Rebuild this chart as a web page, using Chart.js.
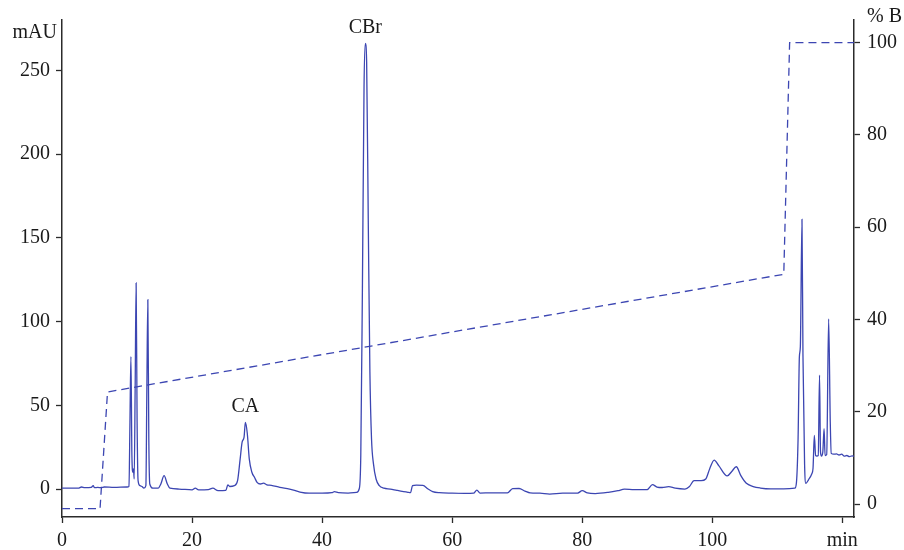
<!DOCTYPE html>
<html>
<head>
<meta charset="utf-8">
<script src="https://cdn.jsdelivr.net/npm/chart.js@4.4.1/dist/chart.umd.min.js"></script>
<style>
  html, body { margin: 0; padding: 0; background: #fff; }
  #wrap { width: 904px; height: 550px; }
</style>
</head>
<body>
<div id="wrap"><canvas id="chrom"></canvas></div>
<script>
// chromatogram trace (time in min, absorbance in mAU)
var times = [0, 2.5, 3.0, 3.5, 4.5, 4.8, 5.0, 5.5, 6.0, 6.5, 8, 10, 10.3, 10.45, 10.6, 10.75, 10.9, 11.0, 11.1, 11.25,
  11.4, 11.55, 11.7, 12.0, 12.3, 12.6, 12.9, 13.05, 13.2, 13.35, 13.5, 14.0, 14.8, 15.2, 15.7, 16.2, 16.6, 18, 20, 20.5,
  21, 22.5, 23.2, 24, 25.2, 25.5, 25.8, 26.5, 27.0, 27.4, 27.7, 28.0, 28.2, 28.5, 28.8, 29.2, 29.6, 30.0, 30.5, 31.0,
  31.5, 32.2, 33.5, 35, 36.6, 38, 40, 41.5, 41.9, 42.5, 44, 45.3, 45.7, 45.95, 46.2, 46.45, 46.65, 46.85, 47.1, 47.35,
  47.6, 47.9, 48.3, 48.8, 49.5, 50.5, 51.5, 53.2, 53.6, 53.9, 54.5, 55.5, 56.3, 57, 58, 60, 62, 63.3, 63.8, 64.3,
  66, 68.5, 69.3, 70.3, 71.2, 72, 73.5, 75, 77, 79.3, 80.0, 80.8, 82, 84, 85.5, 86.5, 88, 90, 90.8, 91.5,
  92.3, 93.3, 94.3, 95.8, 96.5, 97.2, 98.3, 99.0, 99.6, 100.3, 101.0, 102.3, 103.0, 103.7, 104.4, 105.2, 106.3, 107.4, 109, 111,
  112.7, 112.95, 113.2, 113.4, 113.55, 113.8, 113.95, 114.2, 114.4, 114.8, 115.3, 115.5, 115.7, 115.9, 116.1, 116.3, 116.5, 116.65, 116.8, 117.0,
  117.2, 117.35, 117.6, 117.9, 118.15, 118.3, 118.7, 119.1, 119.5, 119.9, 120.3, 120.7, 121.1, 121.5, 121.8];
var mau = [0.5, 0.5, 1.2, 0.8, 1.0, 2.0, 0.8, 1.0, 0.8, 1.2, 1.0, 1.2, 1.5, 40, 79, 20, 10, 12, 6, 60,
  123, 40, 5, 2, 1.5, 0.5, 2, 60, 113, 30, 3, 0.5, 0.5, 3, 8, 3, 0.5, 0, -0.5, 0.5,
  -0.5, -0.3, 0.5, -1, -0.8, 2.5, 1.5, 2, 5, 18, 28, 31, 39.7, 33, 18, 10, 7, 4, 3, 3.5,
  2.5, 2.2, 1, 0, -1.8, -2.5, -2.5, -2.2, -1.6, -2.2, -2.4, -2.0, 0, 20, 120, 240, 266, 255, 160, 70,
  30, 15, 6, 2, 0.5, 0, -0.8, -2.0, -2.2, 2, 2.3, 2.2, 0, -1.5, -2.2, -2.5, -2.6, -2.5, -0.6, -2.4,
  -2.3, -2.3, 0.2, 0.3, -1.2, -2.3, -2.5, -3.0, -2.5, -2.4, -1.0, -2.3, -2.7, -2, -1.0, -0.1, -0.4, -0.3, 2.6, 1.2,
  0.9, 1.4, 0.5, 0, 1.5, 5, 5, 6, 12, 17.3, 14, 7.8, 10.5, 13.3, 8, 3.6, 1.5, 0.6, 0.1, 0.1,
  0.5, 4, 30, 79, 85, 161, 80, 15, 3.4, 5.5, 9, 12.4, 32, 20, 19.7, 20, 68, 22, 19.7, 22,
  36, 20, 20.5, 101.5, 40, 21.3, 20.8, 21, 20.3, 20.8, 19.6, 20, 19.3, 19.8, 19.6];

// solvent gradient (% B)
var gradTimes = [0, 5.85, 7.0, 111.0, 111.9, 121.8];
var gradB = [-1, -1, 24.3, 49.8, 100, 100];

var xTicks = [0, 20, 40, 60, 80, 100, 120];
var leftTicks = [0, 50, 100, 150, 200, 250];
var rightTicks = [0, 20, 40, 60, 80, 100];

var peakNames = ["CA", "CBr"];
var peakTimes = [28.2, 46.65];
var peakHeights = [39.7, 266];

var blue = "#3c46b2";
var axisColor = "#2b2b2b";
var serif = "'Liberation Serif', 'DejaVu Serif', serif";

function pts(xs, ys) {
  return xs.map(function (x, i) { return { x: x, y: ys[i] }; });
}

var labelsPlugin = {
  id: "extraText",
  afterDraw: function (chart) {
    var ctx = chart.ctx;
    var xs = chart.scales.x, ys = chart.scales.y;
    ctx.save();
    ctx.fillStyle = "#1a1a1a";
    ctx.font = "20px " + serif;
    ctx.textBaseline = "middle";
    ctx.textAlign = "right";
    ctx.fillText("mAU", 57, 33);
    ctx.textAlign = "left";
    ctx.fillText("% B", 867, 17);
    ctx.textAlign = "center";
    ctx.textBaseline = "bottom";
    for (var i = 0; i < peakNames.length; i++) {
      ctx.fillText(peakNames[i], xs.getPixelForValue(peakTimes[i]), ys.getPixelForValue(peakHeights[i]) - 6);
    }
    ctx.restore();
  }
};

new Chart("chrom", {
  type: "line",
  data: {
    datasets: [{
      data: pts(times, mau),
      yAxisID: "y",
      borderColor: blue,
      borderWidth: 1.3,
      pointRadius: 0,
      cubicInterpolationMode: "monotone"
    }, {
      data: pts(gradTimes, gradB),
      yAxisID: "y1",
      borderColor: blue,
      borderWidth: 1.3,
      borderDash: [8, 5],
      pointRadius: 0,
      tension: 0
    }]
  },
  options: {
    responsive: true,
    maintainAspectRatio: false,
    animation: false,
    layout: { padding: { top: 20, left: 0, right: 0, bottom: 0 } },
    plugins: { legend: { display: false }, tooltip: { enabled: false } },
    scales: {
      x: {
        type: "linear",
        min: 0,
        max: 121.8,
        afterBuildTicks: function (s) { s.ticks = xTicks.map(function (v) { return { value: v }; }); },
        afterFit: function (s) { s.height = 33; },
        ticks: {
          color: "#1a1a1a",
          font: { family: serif, size: 20 },
          padding: 6,
          maxRotation: 0,
          autoSkip: false,
          callback: function (v) { return v === 120 ? "min" : v; }
        },
        grid: { drawOnChartArea: false, drawTicks: true, tickLength: 6, tickColor: axisColor, tickWidth: 1.3 },
        border: { display: true, color: axisColor, width: 1.5 }
      },
      y: {
        position: "left",
        min: -16.7,
        max: 280,
        afterBuildTicks: function (s) { s.ticks = leftTicks.map(function (v) { return { value: v }; }); },
        afterFit: function (s) { s.width = 62; },
        ticks: { color: "#1a1a1a", font: { family: serif, size: 20 }, padding: 6 },
        grid: { drawOnChartArea: false, drawTicks: true, tickLength: 6, tickColor: axisColor, tickWidth: 1.3 },
        border: { display: true, color: axisColor, width: 1.5 }
      },
      y1: {
        position: "right",
        min: -2.8,
        max: 104.9,
        afterBuildTicks: function (s) { s.ticks = rightTicks.map(function (v) { return { value: v }; }); },
        afterFit: function (s) { s.width = 50; },
        ticks: { color: "#1a1a1a", font: { family: serif, size: 20 }, padding: 7 },
        grid: { drawOnChartArea: false, drawTicks: true, tickLength: 6, tickColor: axisColor, tickWidth: 1.3 },
        border: { display: true, color: axisColor, width: 1.5 }
      }
    }
  },
  plugins: [labelsPlugin]
});
</script>
</body>
</html>
